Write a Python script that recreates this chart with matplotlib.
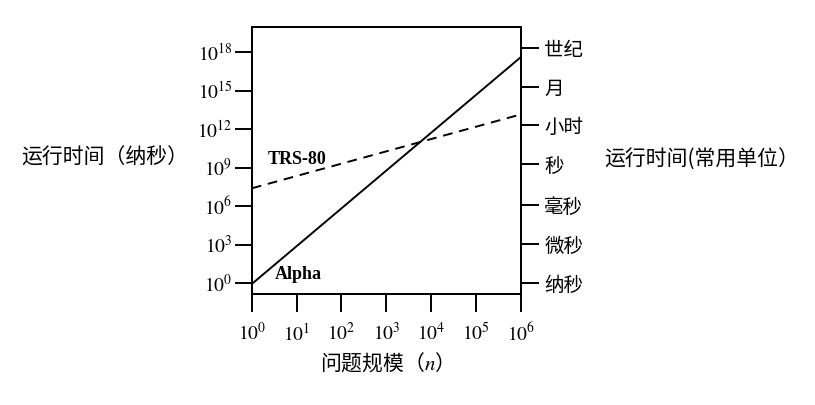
import matplotlib
matplotlib.use("Agg")
import matplotlib.pyplot as plt

plt.rcParams["font.family"] = ["Noto Sans CJK SC", "DejaVu Sans"]
plt.rcParams["mathtext.fontset"] = "stix"

# Problem size n and running time (ns)
n = [1, 1e6]
alpha = [0.9, 4e17]
trs80 = [2.5e7, 1.4e13]

# tick positions and labels
x_ticks = [1e0, 1e1, 1e2, 1e3, 1e4, 1e5, 1e6]
x_labels = [r"$10^{%d}$" % k for k in range(7)]
left_ticks = [1e0, 1e3, 1e6, 1e9, 1e12, 1e15, 1e18]
left_labels = [r"$10^{%d}$" % k for k in range(0, 19, 3)]
right_ticks = [1e0, 10**3.06, 10**6.1, 10**9.26, 10**12.3, 10**15.3, 10**18.3]
right_labels = ["纳秒", "微秒", "毫秒", "秒", "小时", "月", "世纪"]

fig = plt.figure(figsize=(8.15, 4.05), dpi=100)
ax = fig.add_axes([0.309, 0.274, 0.330, 0.660])

ax.plot(n, alpha, color="black", lw=1.4)
ax.plot(n, trs80, color="black", lw=1.4, dashes=(5, 3.5))

ax.set_xscale("log")
ax.set_yscale("log")
ax.set_xlim(1, 1e6)
ax.set_ylim(10**-0.83, 10**19.97)

for s in ax.spines.values():
    s.set_linewidth(1.4)

ax.set_xticks(x_ticks)
ax.set_xticklabels(x_labels, fontsize=14)
ax.set_yticks(left_ticks)
ax.set_yticklabels(left_labels, fontsize=14)
ax.minorticks_off()
ax.tick_params(axis="x", direction="out", length=13, width=1.4, pad=8)
ax.tick_params(axis="y", direction="out", length=12, width=1.4, pad=2)

ax2 = ax.twinx()
ax2.set_yscale("log")
ax2.set_ylim(ax.get_ylim())
ax2.set_yticks(right_ticks)
ax2.set_yticklabels(right_labels, fontsize=14)
ax2.minorticks_off()
ax2.tick_params(axis="y", direction="out", length=13, width=1.4, pad=4)
for s in ax2.spines.values():
    s.set_linewidth(1.4)

ax.text(2.3, 4e9, "TRS-80", family="Liberation Serif", fontweight="bold",
        fontsize=13, ha="left", va="center")
ax.text(3.3, 5, "Alpha", family="Liberation Serif", fontweight="bold",
        fontsize=13, ha="left", va="center")

fig.text(0.231, 0.61, "运行时间（纳秒）", fontsize=15, ha="right", va="center")
fig.text(0.742, 0.605, "运行时间(常用单位）", fontsize=15, ha="left", va="center")
fig.text(0.468, 0.105, "问题规模（$n$）", fontsize=15, ha="center", va="center")

fig.savefig("out.png", dpi=100)
